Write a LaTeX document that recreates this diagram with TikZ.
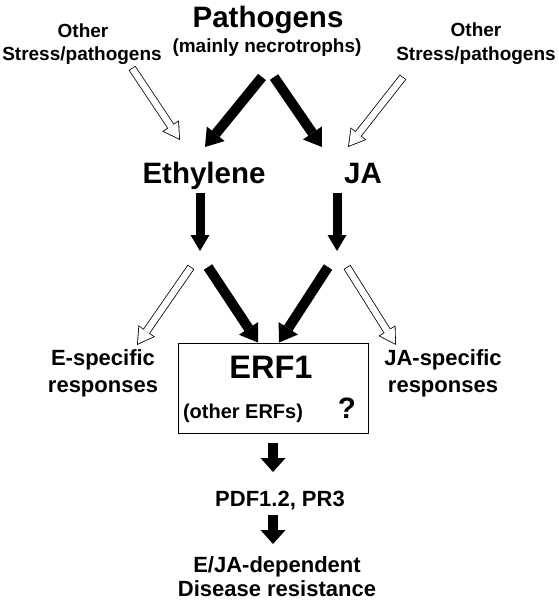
\documentclass[tikz,border=0pt]{standalone}
\usepackage{fontspec}
\setmainfont{Liberation Sans}
\usetikzlibrary{arrows.meta,positioning}

\begin{document}
\begin{tikzpicture}[x=1pt,y=-1pt,
    lbl/.style={inner sep=0pt, anchor=base, font=\bfseries\fontsize{19}{22}\selectfont},
    mid/.style={lbl, font=\bfseries\fontsize{22}{26}\selectfont},
    big/.style={lbl, font=\bfseries\fontsize{29.5}{34}\selectfont},
    fat/.style={line width=10pt, -{Triangle[width=23pt,length=17pt,line width=0pt]}},
    fatdown/.style={line width=9pt, -{Triangle[width=19pt,length=16pt,line width=0pt]}},
    fatlow/.style={line width=10pt, -{Triangle[width=25pt,length=14pt,line width=0pt]}},
    hollow/.style={draw=white, line width=6.4pt,
        -{Triangle[width=17.2pt,length=14.6pt,line width=0pt]},
        shorten >=1.6pt, shorten <=0.8pt,
        preaction={draw=black, line width=8pt,
            -{Triangle[width=20pt,length=17pt,line width=0pt]},
            shorten >=0pt, shorten <=0pt}}]
    \useasboundingbox (0,0) rectangle (559,600);

    % top row
    \node[big] (patho) at (268,27) {Pathogens};
    \node[lbl] (necro) at (267,52) {(mainly necrotrophs)};
    \node[lbl] (otherL) at (83,37) {Other};
    \node[lbl] (stressL) at (82,60) {Stress/pathogens};
    \node[lbl] (otherR) at (476,36) {Other};
    \node[lbl] (stressR) at (476,60) {Stress/pathogens};

    % hormones
    \node[big] (eth) at (204,183) {Ethylene};
    \node[big] (ja) at (363,183) {JA};
    \coordinate (ethEnd) at ([shift={(-4,68)}]eth.base);
    \coordinate (jaEnd) at ([shift={(-26,68)}]ja.base);

    % ERF1 box
    \node[draw, line width=0.9pt, minimum width=190pt, minimum height=90pt] (erfbox) at (273,388) {};
    \node[big, font=\bfseries\fontsize{32.5}{38}\selectfont] (erf1) at (271,378) {ERF1};
    \node[lbl, font=\bfseries\fontsize{20}{23}\selectfont] (others) at (243,418) {(other ERFs)};
    \node[big] (quest) at (347,418) {?};

    \node[mid] (especA) at (103,365) {E-specific};
    \node[mid] (especB) at (103,392) {responses};
    \node[mid] (jaspecA) at (443,365) {JA-specific};
    \node[mid] (jaspecB) at (443,392) {responses};

    % bottom
    \node[mid] (pdf) at (280,506) {PDF1.2, PR3};
    \node[mid] (ejA) at (277,572) {E/JA-dependent};
    \node[mid] (dis) at (277,596) {Disease resistance};

    % arrows
    \draw[hollow] ([shift={(50,8)}]stressL.base) -- ([shift={(-24,-43)}]eth.base);
    \draw[hollow] ([shift={(-73,17)}]stressR.base) -- ([shift={(-15,-36)}]ja.base);
    \draw[fat] ([shift={(-5,25)}]necro.base) -- ([shift={(1,-36)}]eth.base);
    \draw[fat] ([shift={(7,25)}]necro.base) -- ([shift={(-41,-36)}]ja.base);
    \draw[fatdown] ([shift={(-4,10)}]eth.base) -- (ethEnd);
    \draw[fatdown] ([shift={(-26,10)}]ja.base) -- (jaEnd);

    \draw[hollow] ([shift={(-9,16)}]ethEnd) -- ([shift={(34,-20)}]especA.base);
    \draw[fat] ([shift={(8,16)}]ethEnd) -- ([shift={(-15,0)}]erfbox.north);
    \draw[fat] ([shift={(-9,16)}]jaEnd) -- ([shift={(6,0)}]erfbox.north);
    \draw[hollow] ([shift={(10,16)}]jaEnd) -- ([shift={(-47,-20)}]jaspecA.base);

    \draw[fatlow] ([shift={(0,10)}]erfbox.south) -- ([shift={(-7,-34)}]pdf.base);
    \draw[fatlow] ([shift={(-7,9)}]pdf.base) -- ([shift={(-4,-28)}]ejA.base);
\end{tikzpicture}
\end{document}
